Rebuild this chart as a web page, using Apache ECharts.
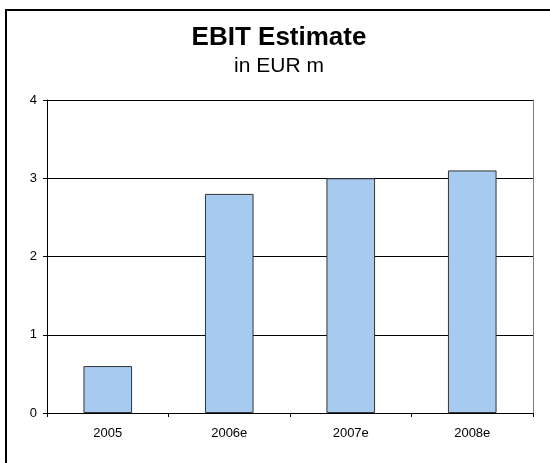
<!DOCTYPE html>
<html>
<head>
<meta charset="utf-8">
<script src="https://cdn.jsdelivr.net/npm/echarts@6/dist/echarts.min.js"></script>
<style>
  html, body { margin: 0; padding: 0; background: #fff; }
  #main { width: 550px; height: 463px; }
</style>
</head>
<body>
<div id="main"></div>
<script>
const categories = ['2005', '2006e', '2007e', '2008e'];
const ebitValues = [0.6, 2.8, 3.0, 3.1];
const yTicks = { min: 0, max: 4, interval: 1 };

const font = 'Liberation Sans, Arial, sans-serif';

const chart = echarts.init(document.getElementById('main'));
chart.setOption({
  animation: false,
  backgroundColor: '#fff',
  title: {
    text: 'EBIT Estimate',
    subtext: 'in EUR m',
    left: 279,
    textAlign: 'center',
    top: 25,
    padding: 0,
    itemGap: 5,
    textStyle: { fontFamily: font, fontSize: 26, fontWeight: 'bold', color: '#000' },
    subtextStyle: { fontFamily: font, fontSize: 21, color: '#000' }
  },
  // outer frame, cut off at the right and bottom like the original
  graphic: [
    {
      type: 'rect',
      shape: { x: 6, y: 10, width: 600, height: 500 },
      style: { fill: 'none', stroke: '#000', lineWidth: 2 },
      silent: true
    }
  ],
  grid: { left: 47, top: 100, right: 17, bottom: 50 },
  xAxis: {
    type: 'category',
    data: categories,
    boundaryGap: true,
    axisLine: { lineStyle: { color: '#000', width: 1 } },
    axisTick: { show: true, length: 4, inside: false, lineStyle: { color: '#000' } },
    axisLabel: { fontFamily: font, fontSize: 13, color: '#000', margin: 14 }
  },
  yAxis: [
    {
      type: 'value',
      min: yTicks.min,
      max: yTicks.max,
      interval: yTicks.interval,
      axisLine: { show: true, lineStyle: { color: '#000', width: 1 } },
      axisTick: { show: true, length: 4, lineStyle: { color: '#000' } },
      axisLabel: { fontFamily: font, fontSize: 13, color: '#000', margin: 10 },
      splitLine: { show: true, lineStyle: { color: '#000', width: 1 } }
    },
    {
      // grey plot-area edge on the right
      type: 'value',
      position: 'right',
      min: yTicks.min,
      max: yTicks.max,
      interval: yTicks.interval,
      axisLine: { show: true, lineStyle: { color: '#808080', width: 1 } },
      axisTick: { show: false },
      axisLabel: { show: false },
      splitLine: { show: false }
    }
  ],
  series: [
    {
      name: 'EBIT',
      type: 'bar',
      data: ebitValues,
      barWidth: '40%',
      itemStyle: { color: '#A6CAF0', borderColor: '#333', borderWidth: 1 }
    }
  ]
});
</script>
</body>
</html>
